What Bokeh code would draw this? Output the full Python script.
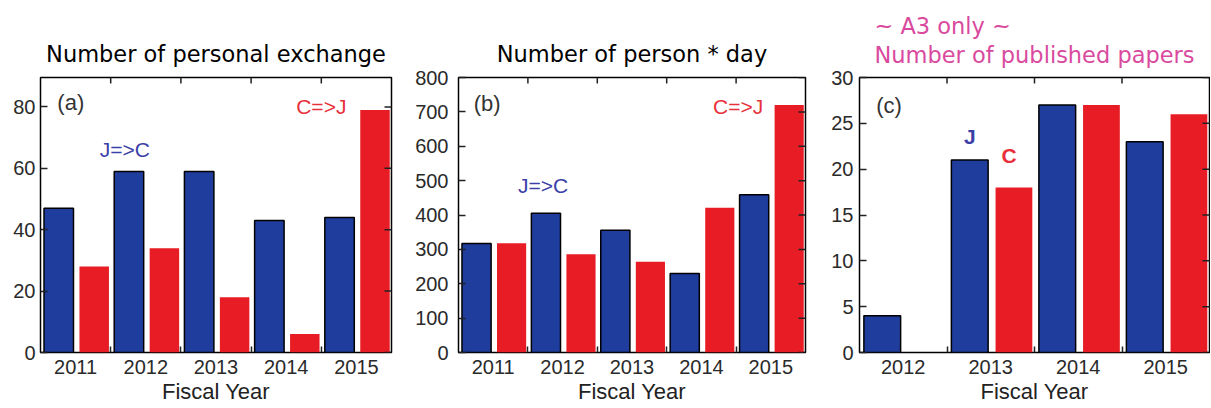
import math
from bokeh.plotting import figure
from bokeh.layouts import row
from bokeh.models import LinearAxis, FixedTicker, Range1d, ColumnDataSource
from bokeh.core.properties import value
from bokeh.embed import file_html
from bokeh.resources import INLINE

# ---------------- data ----------------
years_a = ["2011", "2012", "2013", "2014", "2015"]
exch_j2c = [47, 59, 59, 43, 44]
exch_c2j = [28, 34, 18, 6, 79]

years_b = ["2011", "2012", "2013", "2014", "2015"]
pday_j2c = [317, 405, 356, 230, 459]
pday_c2j = [318, 286, 264, 421, 720]

years_c = ["2012", "2013", "2014", "2015"]
pap_j = [4, 21, 27, 23]
pap_c = [0, 18, 27, 26]

y_ticks_a = [0, 20, 40, 60, 80]
y_ticks_b = [0, 100, 200, 300, 400, 500, 600, 700, 800]
y_ticks_c = [0, 5, 10, 15, 20, 25, 30]

BLUE = "#1f3d9c"
RED = "#e81c24"
TXT_BLUE = "#3a40a8"
TXT_RED = "#e8303a"
PINK = "#d94a9e"
TICK_FONT = "Liberation Sans"
TITLE_FONT = "DejaVu Sans"


def make_panel(years, blue, red, yticks, yend, width, height, bl, br, bt, bb, ystand,
               title, title_color, tstand):
    n = len(years)
    p = figure(width=width, height=height, x_range=Range1d(0, n), y_range=Range1d(0, yend),
               output_backend="svg", toolbar_location=None, tools="",
               min_border_left=bl, min_border_right=br, min_border_top=bt, min_border_bottom=bb,
               x_axis_type=None, y_axis_type=None)
    p.grid.visible = False
    p.outline_line_color = "black"
    p.outline_line_width = 1.5
    p.background_fill_color = "white"
    p.border_fill_color = "white"

    centers = [i + 0.5 for i in range(n)]
    bounds = [i for i in range(1, n)]
    xt = FixedTicker(ticks=centers, minor_ticks=bounds)
    yt = FixedTicker(ticks=yticks, minor_ticks=[])

    xb = LinearAxis(ticker=xt, major_label_overrides={c: y for c, y in zip(centers, years)})
    xb.axis_line_color = None
    xb.major_tick_in = 0
    xb.major_tick_out = 0
    xb.minor_tick_in = 6
    xb.minor_tick_out = 0
    xb.minor_tick_line_color = "#222222"
    xb.minor_tick_line_width = 1.5
    xb.major_label_text_font = TICK_FONT
    xb.major_label_text_color = "#2a2a2a"
    xb.major_label_text_font_size = "20px"
    xb.major_label_standoff = 7
    xb.axis_label = "Fiscal Year"
    xb.axis_label_text_font = TICK_FONT
    xb.axis_label_text_font_size = "22px"
    xb.axis_label_text_font_style = "normal"
    xb.axis_label_text_color = "#222222"
    xb.axis_label_standoff = 2
    p.add_layout(xb, "below")

    yl = LinearAxis(ticker=yt)
    yl.axis_line_color = None
    yl.major_tick_in = 7
    yl.major_tick_out = 0
    yl.major_tick_line_color = "#222222"
    yl.major_tick_line_width = 1.5
    yl.major_label_text_font = TICK_FONT
    yl.major_label_text_color = "#2a2a2a"
    yl.major_label_text_font_size = "20px"
    yl.major_label_standoff = ystand
    p.add_layout(yl, "left")

    bsrc = ColumnDataSource(dict(x=[i + 0.26 for i in range(n)], top=blue))
    rsrc = ColumnDataSource(dict(x=[i + 0.765 for i in range(n)], top=red))
    p.vbar(x="x", top="top", bottom=0, width=0.42, source=bsrc,
           fill_color=BLUE, line_color="black", line_width=1.5)
    p.vbar(x="x", top="top", bottom=0, width=0.42, source=rsrc,
           fill_color=RED, line_color=None)

    # mirrored tick marks on the right and top frame edges (clipped to frame -> inward half)
    p.scatter(x=[n] * len(yticks), y=yticks, marker="dash", size=14,
              line_color="#222222", line_width=1.5)
    p.scatter(x=bounds, y=[yend] * len(bounds), marker="dash", size=12, angle=math.pi / 2,
              line_color="#222222", line_width=1.5)

    p.title.text = title
    p.title.align = "center"
    p.title.text_font = TITLE_FONT
    p.title.text_font_size = "22.5px"
    p.title.text_font_style = "normal"
    p.title.text_color = title_color
    p.title.text_line_height = 1.15
    p.title.standoff = tstand
    return p


def annotate(p, xs, ys, texts, colors, size, style="normal", align="left"):
    src = ColumnDataSource(dict(x=xs, y=ys, t=texts, c=colors))
    p.text(x="x", y="y", text="t", text_color="c", source=src,
           text_font=value(TICK_FONT), text_font_size=size, text_font_style=style,
           text_align=align, text_baseline="middle")


H = 406
pa = make_panel(years_a, exch_j2c, exch_c2j, y_ticks_a, 89.6, 402, H, 40, 11, 77, H - 354, 5,
                "Number of personal exchange", "black", 22)
annotate(pa, [0.24], [81.5], ["(a)"], ["#333333"], "22px")
annotate(pa, [1.2, 4.0], [66, 80], ["J=>C", "C=>J"], [TXT_BLUE, TXT_RED], "21px", align="center")

pb = make_panel(years_b, pday_j2c, pday_c2j, y_ticks_b, 800, 418, H, 56, 15, 77, H - 354, 10,
                "Number of person * day", "black", 22)
annotate(pb, [0.22], [725], ["(b)"], ["#333333"], "22px")
annotate(pb, [1.22, 4.03], [485, 717], ["J=>C", "C=>J"], [TXT_BLUE, TXT_RED], "21px", align="center")

pc = make_panel(years_c, pap_j, pap_c, y_ticks_c, 30, 390, H, 39, 1, 74, H - 352, 6,
                "~ A3 only ~\nNumber of published papers", PINK, 18)
annotate(pc, [0.19], [26.9], ["(c)"], ["#333333"], "22px")
annotate(pc, [1.26, 1.71], [23.6, 21.5], ["J", "C"], [TXT_BLUE, TXT_RED], "21px", style="bold", align="center")

layout = row(pa, pb, pc)
open("out.html", "w").write(file_html(layout, INLINE))
